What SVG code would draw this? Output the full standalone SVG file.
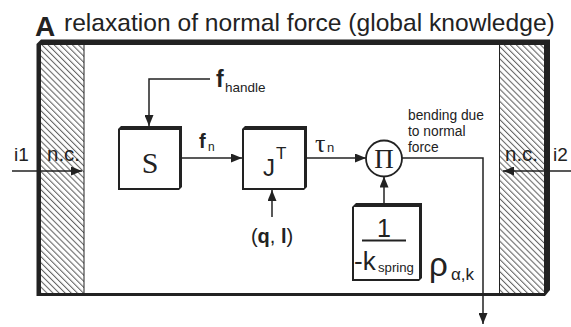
<svg xmlns="http://www.w3.org/2000/svg" width="571" height="327" viewBox="0 0 571 327">
<style>
  .t { font-family: "Liberation Sans", Arial, sans-serif; fill: #222; }
  .s { font-family: "Liberation Serif", "Times New Roman", serif; fill: #222; }
  .b { font-weight: bold; }
  .ln { stroke: #222; stroke-width: 1.5; fill: none; }
  .dk { fill: #222; }
</style>
<defs>
  <marker id="ah" markerUnits="userSpaceOnUse" markerWidth="11" markerHeight="9" refX="11" refY="4.5" orient="auto">
    <path d="M0,0 L11,4.5 L0,9 Z" fill="#222"/>
  </marker>
  <pattern id="hatch" patternUnits="userSpaceOnUse" width="10" height="4.3" patternTransform="rotate(45)">
    <line x1="0" y1="2" x2="10" y2="2" stroke="#222" stroke-width="0.8"/>
  </pattern>
</defs>

<g id="title">
  <text class="t b" x="35" y="36" font-size="28">A</text>
  <text class="t" x="64" y="31" font-size="24.6">relaxation of normal force (global knowledge)</text>
</g>

<g id="frame">
  <polygon class="dk" points="41,39.5 550,39.5 550,290 545,296 36.5,296 36.5,44"/>
  <rect x="41" y="45" width="503" height="248" fill="#fff"/>
  <rect x="41" y="45" width="43" height="248" fill="url(#hatch)"/>
  <line x1="84" y1="45" x2="84" y2="293" stroke="#222" stroke-width="1"/>
  <rect x="499" y="45" width="45" height="248" fill="url(#hatch)"/>
  <line x1="499.5" y1="45" x2="499.5" y2="293" stroke="#222" stroke-width="1"/>
</g>

<g id="connectors">
  <line class="ln" x1="12" y1="171" x2="82" y2="171" marker-end="url(#ah)"/>
  <line class="ln" x1="571" y1="171" x2="503" y2="171" marker-end="url(#ah)"/>
  <polyline class="ln" points="210,79 149,79 149,126" marker-end="url(#ah)"/>
  <line class="ln" x1="182" y1="158" x2="242" y2="158" marker-end="url(#ah)"/>
  <line class="ln" x1="272" y1="217" x2="272" y2="190" marker-end="url(#ah)"/>
  <line class="ln" x1="307" y1="158" x2="366" y2="158" marker-end="url(#ah)"/>
  <line class="ln" x1="384" y1="203" x2="384" y2="176.5" marker-end="url(#ah)"/>
  <polyline class="ln" points="402,158 483,158 483,324" marker-end="url(#ah)"/>
</g>

<g id="io-labels">
  <text class="t" x="14" y="161" font-size="19">i1</text>
  <text class="t" x="47" y="161" font-size="20.5">n.c.</text>
  <text class="t" x="553" y="161" font-size="19">i2</text>
  <text class="t" x="505" y="161" font-size="20.5">n.c.</text>
</g>

<g id="f-handle">
  <text class="t b" x="216" y="87" font-size="23">f</text>
  <text class="t" x="225" y="92" font-size="13.5">handle</text>
</g>

<g id="S">
  <polygon class="dk" points="121,126 182,126 182,187 179,190 118,190 118,129"/>
  <rect x="120" y="130" width="59" height="58" fill="#fff"/>
  <text class="s" x="150" y="173" font-size="30" text-anchor="middle">S</text>
</g>

<g id="fn-label">
  <text class="t b" x="199" y="148" font-size="20">f</text>
  <text class="t" x="208" y="151" font-size="12">n</text>
</g>

<g id="JT">
  <polygon class="dk" points="245,126 307,126 307,187 304,190 242,190 242,129"/>
  <rect x="244" y="130" width="60" height="58" fill="#fff"/>
  <text class="t" x="263" y="176" font-size="24">J</text>
  <text class="t" x="276" y="159" font-size="17">T</text>
</g>

<g id="ql-label">
  <text class="t" x="272" y="243" font-size="20" text-anchor="middle">(<tspan class="b">q</tspan>, <tspan class="b">l</tspan>)</text>
</g>

<g id="tau-label">
  <text class="s" x="315" y="152" font-size="26">τ</text>
  <text class="t" x="327" y="152" font-size="13">n</text>
</g>

<g id="Pi">
  <circle cx="384" cy="158.5" r="18" fill="#fff" stroke="#222" stroke-width="1.8"/>
  <text class="s" x="384" y="168" font-size="27" text-anchor="middle">Π</text>
</g>

<g id="bending-label">
  <text class="t" x="408" y="120" font-size="13.8">bending due</text>
  <text class="t" x="408" y="136" font-size="13.8">to normal</text>
  <text class="t" x="408" y="152" font-size="13.8">force</text>
</g>

<g id="spring">
  <polygon class="dk" points="356,203 422,203 422,278 419,281 352,281 352,207"/>
  <rect x="354" y="207" width="65" height="72" fill="#fff"/>
  <text class="t" x="384" y="237" font-size="25" text-anchor="middle">1</text>
  <line x1="362" y1="240.5" x2="406" y2="240.5" stroke="#222" stroke-width="2"/>
  <text class="t" x="354" y="270" font-size="26">-k</text>
  <text class="t" x="378" y="272" font-size="13.2">spring</text>
</g>

<g id="rho-label">
  <text class="t" x="429" y="276" font-size="33">ρ</text>
  <text class="t" x="451" y="280" font-size="17">α,k</text>
</g>
</svg>
